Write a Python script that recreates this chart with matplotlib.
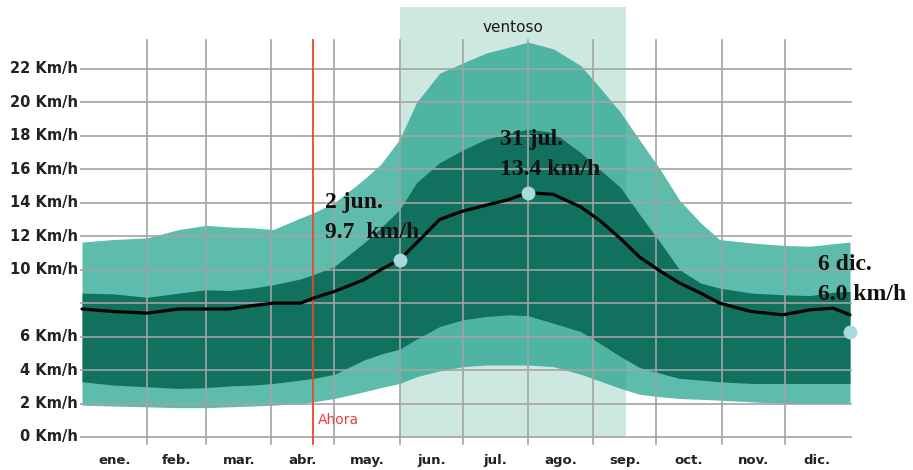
import numpy as np
import matplotlib.pyplot as plt

# day of year (0 = 1 ene.)
days = [0, 15, 31, 46, 59, 70, 81, 91, 104, 110, 120, 134, 142, 151, 159, 170, 181,
        192, 203, 212, 224, 237, 246, 256, 265, 275, 284, 294, 303, 318, 333, 346, 357, 365]

p90 = [11.65, 11.8, 11.9, 12.4, 12.65, 12.55, 12.5, 12.4, 13.1, 13.4, 14.0, 15.4, 16.3,
       17.8, 20.0, 21.75, 22.35, 22.95, 23.3, 23.6, 23.2, 22.2, 20.9, 19.4, 17.75, 15.95,
       14.15, 12.8, 11.8, 11.6, 11.45, 11.4, 11.55, 11.65]
p75 = [8.6, 8.55, 8.35, 8.6, 8.8, 8.75, 8.9, 9.1, 9.45, 9.7, 10.2, 11.6, 12.5, 13.6, 15.2,
       16.4, 17.15, 17.8, 18.15, 18.4, 18.2, 17.0, 16.0, 14.9, 13.3, 11.6, 10.0, 9.2, 8.9,
       8.6, 8.5, 8.45, 8.65, 8.7]
mean = [7.65, 7.5, 7.4, 7.65, 7.65, 7.65, 7.85, 8.0, 8.0, 8.3, 8.7, 9.4, 10.0, 10.6, 11.6,
        13.0, 13.5, 13.85, 14.2, 14.6, 14.5, 13.75, 12.95, 11.85, 10.75, 9.9, 9.2, 8.6, 8.0,
        7.5, 7.3, 7.6, 7.7, 7.3]
p25 = [3.3, 3.1, 3.0, 2.9, 2.95, 3.05, 3.1, 3.2, 3.4, 3.5, 3.75, 4.6, 4.95, 5.25, 5.85,
       6.6, 7.0, 7.2, 7.3, 7.25, 6.8, 6.3, 5.6, 4.8, 4.15, 3.8, 3.5, 3.4, 3.3, 3.2, 3.2,
       3.2, 3.2, 3.2]
p10 = [1.9, 1.85, 1.8, 1.75, 1.75, 1.8, 1.85, 1.9, 2.0, 2.1, 2.3, 2.7, 2.95, 3.2, 3.6,
       3.95, 4.2, 4.3, 4.3, 4.3, 4.2, 3.75, 3.35, 2.9, 2.55, 2.4, 2.3, 2.25, 2.2, 2.1, 2.0,
       2.0, 2.0, 2.0]

months = ["ene.", "feb.", "mar.", "abr.", "may.", "jun.", "jul.", "ago.", "sep.",
          "oct.", "nov.", "dic."]
month_len = [31, 28, 31, 30, 31, 30, 31, 31, 30, 31, 30, 31]
yticks = [0, 2, 4, 6, 8, 10, 12, 14, 16, 18, 20, 22]
ylabels = ["0 Km/h", "2 Km/h", "4 Km/h", "6 Km/h", "", "10 Km/h", "12 Km/h", "14 Km/h",
           "16 Km/h", "18 Km/h", "20 Km/h", "22 Km/h"]

windy = (151, 258.5)
now_day = 110

ann_days = [151, 212, 365]
ann_vals = [10.6, 14.6, 6.3]
ann_text = [("2 jun.", "9.7  km/h"), ("31 jul.", "13.4 km/h"), ("6 dic.", "6.0 km/h")]
ann_pos = [(115.5, 13.7), (198.7, 17.45), (349.8, 9.98)]

fig = plt.figure(figsize=(9.13, 4.7), dpi=100)
ax = fig.add_axes([80 / 913, 23 / 470, 772 / 913, 440 / 470])
ax.set_xlim(-0.95, 365.95)
ax.set_ylim(-0.6, 25.7)
ax.axis("off")

grid_c = "#a3a3a3"

ax.fill_between(windy, 0, 25.7, color="#cde8e0", lw=0, zorder=0)
ax.text(sum(windy) / 2, 24.5, "ventoso", ha="center", va="center", fontsize=11,
        color="#1a1a1a", zorder=6)

ax.fill_between(days, p10, p90, color="#1ea28b", alpha=0.72, lw=0, zorder=1)
ax.fill_between(days, p25, p75, color="#12705e", lw=0, zorder=2)

bounds = np.cumsum(month_len)
for b in bounds[:-1]:
    ax.plot([b, b], [-0.45, 23.7], color=grid_c, lw=1.2, zorder=3, clip_on=False)
for t, lab in zip(yticks, ylabels):
    ax.plot([-0.95, 365.5], [t, t], color=grid_c, lw=1.2, zorder=3)
    ax.text(-2, t, lab, ha="right", va="center", fontsize=10.5, fontweight="bold",
            color="#222222")

starts = np.concatenate([[0], bounds[:-1]])
for s, n, m in zip(starts, month_len, months):
    ax.text(s + n / 2, -1.4, m, ha="center", va="center", fontsize=9.5,
            fontweight="bold", color="#222222", clip_on=False)

ax.plot([now_day, now_day], [-0.45, 23.7], color="#e8482a", lw=1.3, zorder=3.5,
        clip_on=False)
ax.text(now_day + 2.3, 1.0, "Ahora", ha="left", va="center", fontsize=10,
        color="#ee3b3b", zorder=6)

ax.plot(days, mean, color="black", lw=2.3, zorder=4, solid_capstyle="round")
ax.plot(ann_days, ann_vals, "o", ms=9, color="#a8d9de", zorder=5, clip_on=False)

for (x, y), (l1, l2) in zip(ann_pos, ann_text):
    ax.text(x, y, l1, ha="left", va="baseline", fontsize=17, fontweight="bold",
            family="Liberation Serif", color="#111111", zorder=6, clip_on=False)
    ax.text(x, y - 1.79, l2, ha="left", va="baseline", fontsize=17, fontweight="bold",
            family="Liberation Serif", color="#111111", zorder=6, clip_on=False)

fig.savefig("out.png", dpi=100)
